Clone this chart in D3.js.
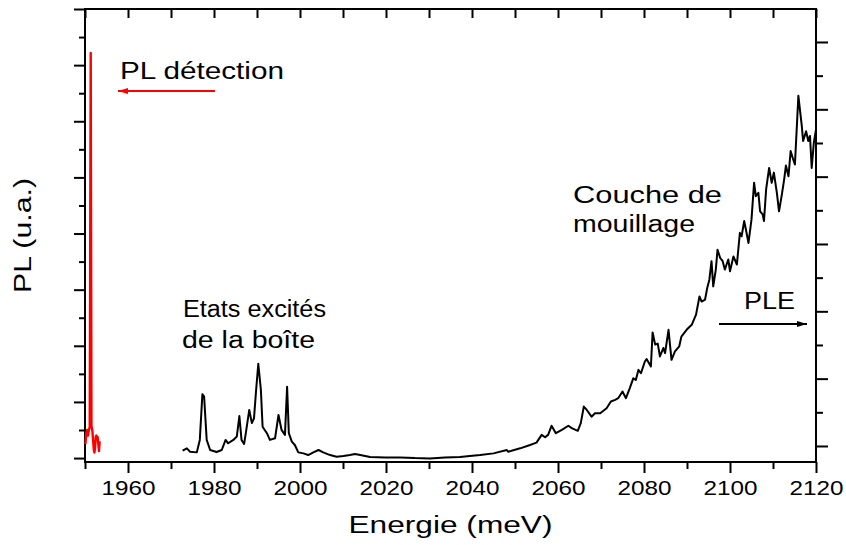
<!DOCTYPE html>
<html>
<head>
<meta charset="utf-8">
<script src="https://cdn.jsdelivr.net/npm/d3@7"></script>
<style>
  body { margin: 0; background: #fff; }
  svg { display: block; }
  text { font-family: "Liberation Sans", Arial, Helvetica, sans-serif; fill: #000; }
</style>
</head>
<body>
<svg id="chart" width="846" height="545"></svg>
<script>
// PLE spectrum (excitation energy in meV, intensity in arbitrary units, right scale)
const pleEnergy = [
  1972.7, 1973.7, 1974.4, 1976.0, 1976.7, 1977.3, 1977.7, 1978.3, 1979.1, 1980.6,
  1981.8, 1982.7, 1983.3, 1984.5, 1985.3, 1985.9, 1986.4, 1987.0, 1987.4, 1988.2,
  1988.8, 1989.3, 1989.8, 1990.3, 1990.9, 1991.3, 1992.3, 1993.0, 1994.2, 1995.0,
  1995.7, 1996.5, 1997.0, 1997.4, 1998.1, 1998.8, 1999.6, 2000.8, 2001.9, 2003.1,
  2004.3, 2005.4, 2007.0, 2008.5, 2010.1, 2011.6, 2012.8, 2014.0, 2016.3, 2019.8,
  2023.3, 2026.7, 2030.2, 2033.7, 2037.2, 2039.5, 2041.9, 2045.0, 2048.1, 2048.4,
  2051.2, 2053.5, 2055.0, 2056.2, 2057.0, 2057.7, 2058.5, 2059.5, 2060.9, 2062.4,
  2063.2, 2064.6, 2065.3, 2066.0, 2066.7, 2067.8, 2068.6, 2069.8, 2071.3, 2072.3,
  2073.3, 2074.0, 2075.0, 2075.8, 2076.7, 2077.5, 2078.1, 2078.7, 2079.3, 2080.2,
  2080.6, 2081.6, 2082.0, 2082.6, 2083.2, 2083.7, 2084.5, 2084.9, 2085.7, 2086.4,
  2087.2, 2088.2, 2088.7, 2089.9, 2091.1, 2092.1, 2092.9, 2093.4, 2094.2, 2094.7,
  2095.2, 2095.7, 2096.1, 2096.7, 2097.1, 2097.7, 2098.3, 2098.8, 2099.6, 2100.0,
  2100.8, 2101.6, 2102.3, 2102.7, 2103.3, 2103.7, 2104.3, 2105.0, 2105.6, 2106.0,
  2106.6, 2107.0, 2107.6, 2107.9, 2108.4, 2109.1, 2109.7, 2110.2, 2110.9, 2111.4,
  2112.0, 2112.6, 2113.0, 2113.6, 2114.1, 2114.7, 2115.1, 2115.9, 2116.7, 2117.0,
  2117.7, 2118.2, 2118.6, 2119.0, 2119.5, 2120.0
];
const pleSignal = [
  -0.14, -0.07, -0.17, -0.19, 0.18, 1.54, 1.47, 0.18, -0.12, -0.18,
  -0.12, 0.18, 0.08, 0.18, 0.28, 0.89, 0.18, 0.06, 0.38, 1.07,
  0.68, 0.82, 1.67, 2.44, 1.67, 0.57, 0.38, 0.18, 0.23, 0.92,
  0.48, 0.33, 1.76, 0.38, 0.13, 0.03, -0.19, -0.22, -0.27, -0.19,
  -0.12, -0.19, -0.27, -0.32, -0.30, -0.27, -0.24, -0.27, -0.33, -0.34,
  -0.34, -0.36, -0.37, -0.34, -0.33, -0.30, -0.27, -0.22, -0.12, -0.17,
  -0.07, 0.03, 0.10, 0.33, 0.26, 0.33, 0.60, 0.38, 0.48, 0.60,
  0.53, 0.45, 0.68, 1.17, 1.07, 0.87, 0.97, 0.97, 1.12, 1.32,
  1.37, 1.42, 1.62, 1.42, 1.72, 2.01, 1.96, 2.26, 2.16, 2.51,
  2.58, 2.36, 3.37, 3.01, 3.04, 2.66, 2.91, 2.76, 3.45, 2.56,
  2.81, 2.96, 3.25, 3.45, 3.60, 3.90, 4.44, 4.29, 4.35, 4.69,
  4.94, 5.49, 4.74, 5.24, 5.83, 5.59, 5.49, 5.24, 5.54, 5.19,
  5.63, 5.39, 6.33, 6.23, 6.68, 6.43, 6.03, 6.73, 7.82, 7.42,
  7.52, 6.97, 6.88, 6.68, 7.62, 8.26, 7.82, 8.12, 7.52, 6.97,
  7.42, 7.92, 8.33, 8.01, 8.76, 8.51, 8.36, 10.40, 9.50, 9.06,
  9.35, 9.06, 9.21, 8.26, 9.01, 9.40
];

// PL detection line (emission energy in meV, intensity in arbitrary units, left scale)
const plEnergy = [
  1950.1, 1950.3, 1950.5, 1950.7, 1950.9, 1951.1, 1951.33, 1951.5, 1951.7, 1951.9,
  1952.05, 1952.2, 1952.35, 1952.5, 1952.65, 1952.8, 1952.95, 1953.1, 1953.25, 1953.4
];
const plSignal = [
  0.5, 0.9, 1.0, 0.8, 1.0, 1.1, 14.43, 1.15, 1.0, 0.6,
  0.3, 0.2, 0.4, 0.75, 0.8, 0.7, 0.75, 0.5, 0.25, 0.6
];

// Axis ticks
const xMajorTicks = [1960, 1980, 2000, 2020, 2040, 2060, 2080, 2100, 2120];
const xMinorTicks = [1950, 1970, 1990, 2010, 2030, 2050, 2070, 2090, 2110];
const leftMajorTicks = [0, 2, 4, 6, 8, 10, 12, 14, 16];
const leftMinorTicks = [1, 3, 5, 7, 9, 11, 13, 15];
const rightMajorTicks = [0, 2, 4, 6, 8, 10, 12];
const rightMinorTicks = [1, 3, 5, 7, 9, 11];

const svg = d3.select("#chart");
const frame = { left: 85, right: 816, top: 9, bottom: 462 };

const x = d3.scaleLinear().domain([1950, 2120]).range([frame.left, frame.right]);
const yPL = d3.scaleLinear().domain([-0.14, 16]).range([frame.bottom, frame.top]);
const yPLE = d3.scaleLinear().domain([-0.476, 12.98]).range([frame.bottom, frame.top]);

function styleAxis(g) {
  g.select(".domain").remove();
  g.selectAll(".tick line").attr("stroke", "#000").attr("stroke-width", 2);
}

// bottom axis: outward ticks, labels every 20 meV
svg.append("g").attr("transform", `translate(0,${frame.bottom})`)
  .call(d3.axisBottom(x).tickValues(xMinorTicks).tickSize(7).tickFormat(""))
  .call(styleAxis);
const xAxisG = svg.append("g").attr("transform", `translate(0,${frame.bottom})`)
  .call(d3.axisBottom(x).tickValues(xMajorTicks).tickSize(11).tickPadding(7).tickFormat(d3.format("d")))
  .call(styleAxis);
xAxisG.selectAll(".tick text")
  .attr("font-size", 21)
  .attr("textLength", 54)
  .attr("lengthAdjust", "spacingAndGlyphs");

// top axis: inward ticks
svg.append("g").attr("transform", `translate(0,${frame.top})`)
  .call(d3.axisBottom(x).tickValues(xMajorTicks.concat(xMinorTicks)).tickSize(9).tickFormat(""))
  .call(styleAxis);

// left axis (PL): outward ticks, no labels
svg.append("g").attr("transform", `translate(${frame.left},0)`)
  .call(d3.axisLeft(yPL).tickValues(leftMajorTicks).tickSize(11).tickFormat(""))
  .call(styleAxis);
svg.append("g").attr("transform", `translate(${frame.left},0)`)
  .call(d3.axisLeft(yPL).tickValues(leftMinorTicks).tickSize(6).tickFormat(""))
  .call(styleAxis);

// right axis (PLE): outward ticks, no labels
svg.append("g").attr("transform", `translate(${frame.right},0)`)
  .call(d3.axisRight(yPLE).tickValues(rightMajorTicks).tickSize(12).tickFormat(""))
  .call(styleAxis);
svg.append("g").attr("transform", `translate(${frame.right},0)`)
  .call(d3.axisRight(yPLE).tickValues(rightMinorTicks).tickSize(7).tickFormat(""))
  .call(styleAxis);

// plot frame
svg.append("rect")
  .attr("x", frame.left).attr("y", frame.top)
  .attr("width", frame.right - frame.left).attr("height", frame.bottom - frame.top)
  .attr("fill", "none").attr("stroke", "#000").attr("stroke-width", 2);

// spectra
const plePoints = pleEnergy.map((e, i) => [e, pleSignal[i]]);
const plPoints = plEnergy.map((e, i) => [e, plSignal[i]]);

svg.append("path")
  .datum(plePoints)
  .attr("fill", "none").attr("stroke", "#000").attr("stroke-width", 2)
  .attr("stroke-linejoin", "round")
  .attr("d", d3.line().x(d => x(d[0])).y(d => yPLE(d[1])));

svg.append("path")
  .datum(plPoints)
  .attr("fill", "none").attr("stroke", "#ff0000").attr("stroke-width", 2.4)
  .attr("stroke-linejoin", "round")
  .attr("d", d3.line().x(d => x(d[0])).y(d => yPL(d[1])));

// arrow heads
const defs = svg.append("defs");
[["head-red", "#ff0000"], ["head-black", "#000"]].forEach(([id, c]) => {
  defs.append("marker")
    .attr("id", id).attr("viewBox", "0 0 10 6")
    .attr("refX", 10).attr("refY", 3)
    .attr("markerWidth", 10).attr("markerHeight", 6)
    .attr("markerUnits", "userSpaceOnUse")
    .attr("orient", "auto")
    .append("path").attr("d", "M0,0 L10,3 L0,6 Z").attr("fill", c);
});

// annotations
function label(txt, px, py, size, len) {
  svg.append("text")
    .attr("x", px).attr("y", py)
    .attr("font-size", size)
    .attr("textLength", len)
    .attr("lengthAdjust", "spacingAndGlyphs")
    .text(txt);
}

label("PL détection", 120, 79, 23, 164);
svg.append("line")
  .attr("x1", 215).attr("y1", 91).attr("x2", 118).attr("y2", 91)
  .attr("stroke", "#ff0000").attr("stroke-width", 2)
  .attr("marker-end", "url(#head-red)");

label("Etats excités", 183, 317, 23, 143);
label("de la boîte", 182, 348, 23, 133);

label("Couche de", 573, 203, 23, 149);
label("mouillage", 573, 232, 23, 122);

label("PLE", 744, 309, 23, 51);
svg.append("line")
  .attr("x1", 719).attr("y1", 324).attr("x2", 807).attr("y2", 324)
  .attr("stroke", "#000").attr("stroke-width", 2)
  .attr("marker-end", "url(#head-black)");

// axis titles
svg.append("text")
  .attr("x", (frame.left + frame.right) / 2).attr("y", 533)
  .attr("text-anchor", "middle")
  .attr("font-size", 23)
  .attr("textLength", 204)
  .attr("lengthAdjust", "spacingAndGlyphs")
  .text("Energie (meV)");

svg.append("text")
  .attr("transform", `translate(31,${(frame.top + frame.bottom) / 2}) rotate(-90)`)
  .attr("text-anchor", "middle")
  .attr("font-size", 23)
  .attr("textLength", 115)
  .attr("lengthAdjust", "spacingAndGlyphs")
  .text("PL (u.a.)");
</script>
</body>
</html>
